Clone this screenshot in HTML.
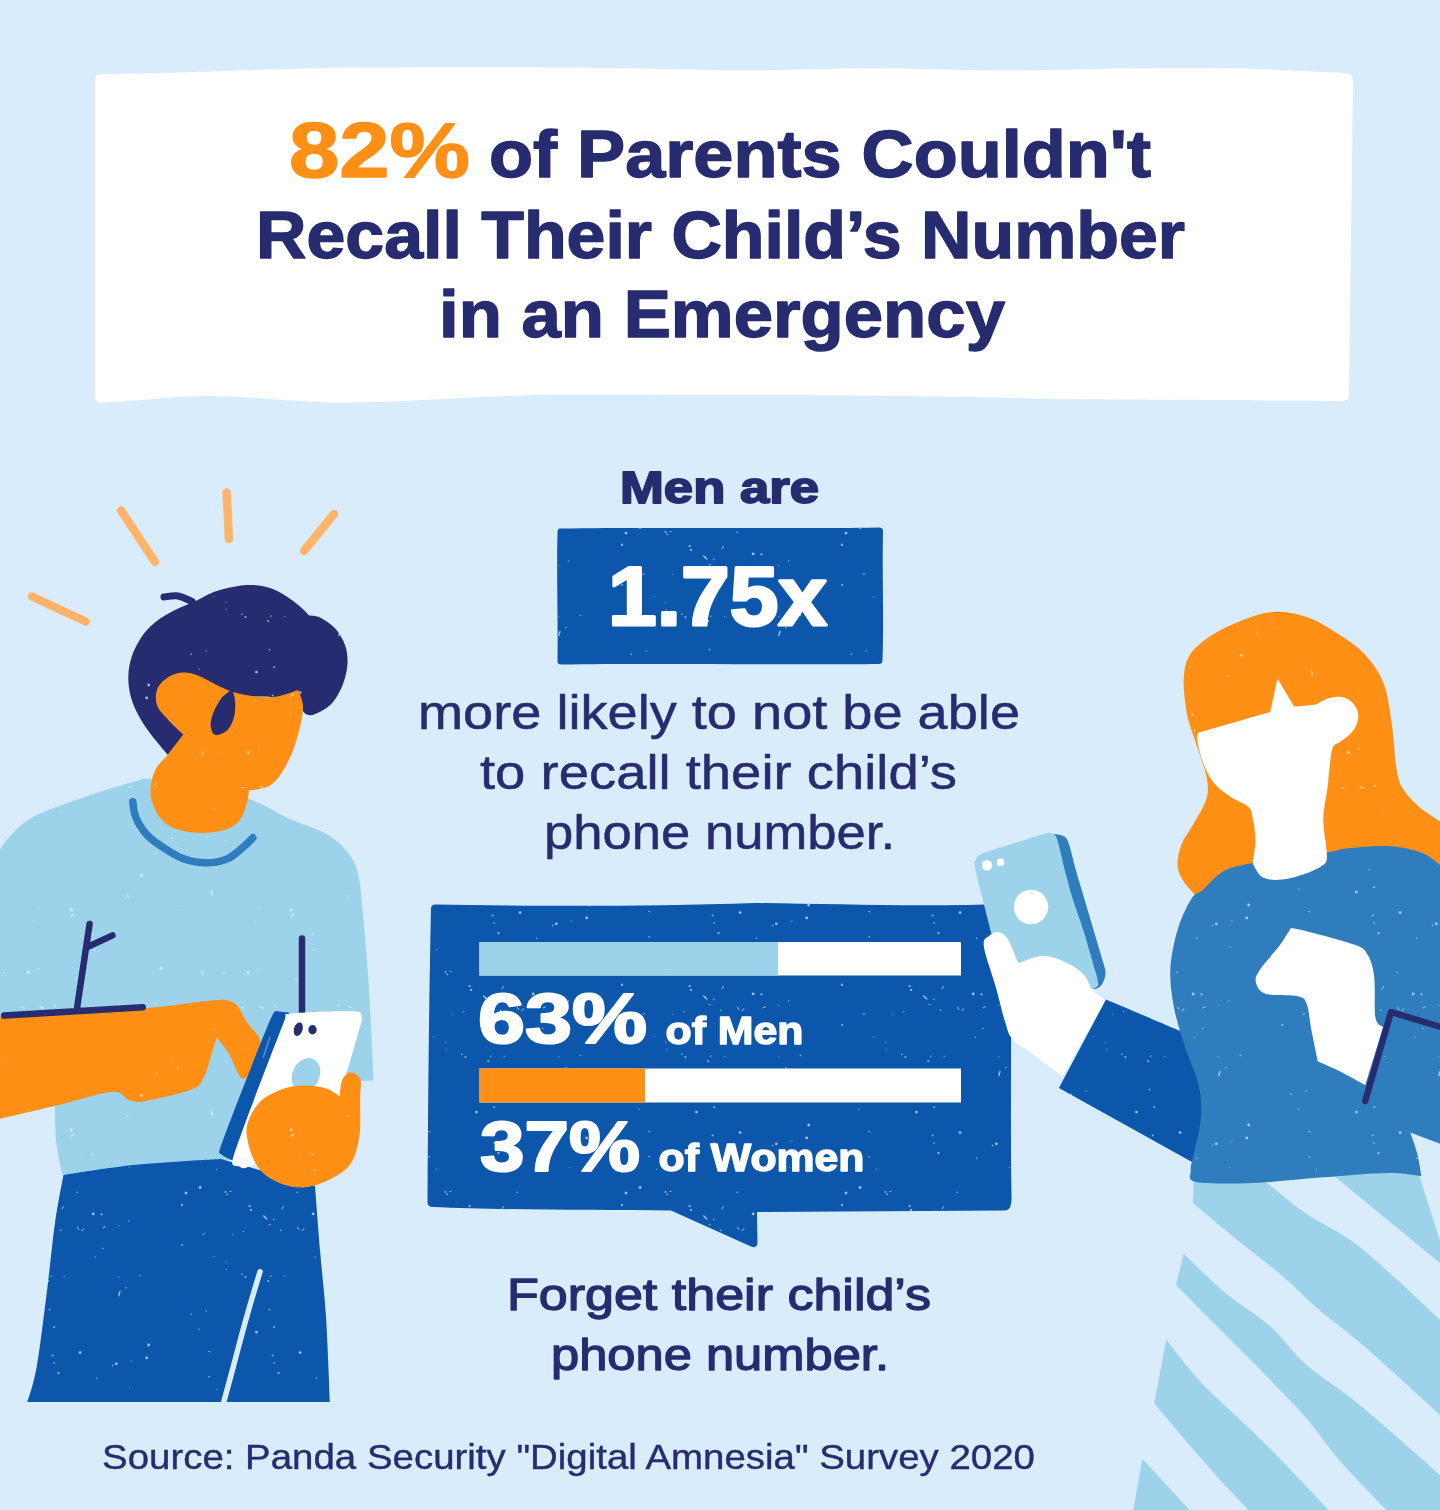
<!DOCTYPE html>
<html lang="en">
<head>
<meta charset="utf-8">
<title>82% of Parents Couldn't Recall Their Child's Number in an Emergency</title>
<style>
html,body{margin:0;padding:0;background:#d9ecfb;}
body{width:1440px;height:1510px;overflow:hidden;position:relative;font-family:"Liberation Sans",sans-serif;}
svg{position:absolute;left:0;top:0;display:block;}
text{font-family:"Liberation Sans",sans-serif;}
.b{font-weight:700;}
.navy{fill:#262c6f;}
.wht{fill:#ffffff;}
.org{fill:#ff9015;}
</style>
</head>
<body>
<svg width="1440" height="1510" viewBox="0 0 1440 1510">
<defs><pattern id="sd" width="220" height="220" patternUnits="userSpaceOnUse"><circle cx="53.9" cy="119.5" r="0.7" fill="#cfe6fa" fill-opacity="0.75"/><ellipse cx="104.4" cy="127.3" rx="2.0" ry="0.5" transform="rotate(150 104.4 127.3)" fill="#cfe6fa" fill-opacity="0.75"/><circle cx="58.5" cy="53.1" r="1.1" fill="#cfe6fa" fill-opacity="0.75"/><circle cx="182.0" cy="104.9" r="1.1" fill="#cfe6fa" fill-opacity="0.75"/><circle cx="52.6" cy="35.4" r="0.9" fill="#cfe6fa" fill-opacity="0.75"/><circle cx="6.2" cy="169.3" r="0.6" fill="#cfe6fa" fill-opacity="0.75"/><circle cx="129.5" cy="67.5" r="0.5" fill="#cfe6fa" fill-opacity="0.75"/><circle cx="60.7" cy="130.3" r="0.8" fill="#cfe6fa" fill-opacity="0.75"/><circle cx="200.1" cy="87.5" r="1.4" fill="#cfe6fa" fill-opacity="0.75"/><ellipse cx="209.3" cy="31.7" rx="1.5" ry="0.4" transform="rotate(24 209.3 31.7)" fill="#cfe6fa" fill-opacity="0.75"/><circle cx="49.4" cy="209.6" r="0.8" fill="#cfe6fa" fill-opacity="0.75"/><circle cx="186.0" cy="93.1" r="1.4" fill="#cfe6fa" fill-opacity="0.75"/><ellipse cx="78.1" cy="128.2" rx="2.0" ry="0.5" transform="rotate(60 78.1 128.2)" fill="#cfe6fa" fill-opacity="0.75"/><circle cx="199.0" cy="9.1" r="0.7" fill="#cfe6fa" fill-opacity="0.75"/><circle cx="146.7" cy="37.9" r="1.4" fill="#cfe6fa" fill-opacity="0.75"/><circle cx="118.9" cy="125.4" r="0.5" fill="#cfe6fa" fill-opacity="0.75"/><circle cx="48.2" cy="181.0" r="0.9" fill="#cfe6fa" fill-opacity="0.75"/><circle cx="29.6" cy="106.1" r="1.1" fill="#cfe6fa" fill-opacity="0.75"/><circle cx="21.9" cy="174.3" r="0.8" fill="#cfe6fa" fill-opacity="0.75"/><circle cx="7.3" cy="94.4" r="0.8" fill="#cfe6fa" fill-opacity="0.75"/><circle cx="12.5" cy="134.5" r="0.5" fill="#cfe6fa" fill-opacity="0.75"/><circle cx="128.5" cy="120.9" r="0.7" fill="#cfe6fa" fill-opacity="0.75"/><ellipse cx="216.7" cy="69.3" rx="1.1" ry="0.3" transform="rotate(96 216.7 69.3)" fill="#cfe6fa" fill-opacity="0.75"/><circle cx="206.1" cy="210.9" r="0.7" fill="#cfe6fa" fill-opacity="0.75"/><circle cx="36.4" cy="12.1" r="1.4" fill="#cfe6fa" fill-opacity="0.75"/><circle cx="80.1" cy="32.6" r="1.4" fill="#cfe6fa" fill-opacity="0.75"/><circle cx="101.5" cy="114.3" r="1.1" fill="#cfe6fa" fill-opacity="0.75"/><circle cx="148.7" cy="25.0" r="1.4" fill="#cfe6fa" fill-opacity="0.75"/><circle cx="95.3" cy="157.1" r="0.6" fill="#cfe6fa" fill-opacity="0.75"/><circle cx="96.6" cy="58.3" r="0.7" fill="#cfe6fa" fill-opacity="0.75"/><circle cx="5.5" cy="91.9" r="0.9" fill="#cfe6fa" fill-opacity="0.75"/><ellipse cx="83.6" cy="129.1" rx="1.3" ry="0.4" transform="rotate(112 83.6 129.1)" fill="#cfe6fa" fill-opacity="0.75"/><circle cx="102.8" cy="148.4" r="0.7" fill="#cfe6fa" fill-opacity="0.75"/><ellipse cx="62.7" cy="107.8" rx="2.0" ry="0.5" transform="rotate(121 62.7 107.8)" fill="#cfe6fa" fill-opacity="0.75"/><circle cx="209.1" cy="56.7" r="0.8" fill="#cfe6fa" fill-opacity="0.75"/><circle cx="131.7" cy="41.0" r="0.6" fill="#cfe6fa" fill-opacity="0.75"/><circle cx="82.0" cy="130.5" r="0.7" fill="#cfe6fa" fill-opacity="0.75"/><circle cx="25.4" cy="177.0" r="0.9" fill="#cfe6fa" fill-opacity="0.75"/><circle cx="31.1" cy="110.0" r="1.1" fill="#cfe6fa" fill-opacity="0.75"/><circle cx="54.1" cy="43.1" r="0.8" fill="#cfe6fa" fill-opacity="0.75"/><circle cx="23.8" cy="131.6" r="0.7" fill="#cfe6fa" fill-opacity="0.75"/><ellipse cx="51.0" cy="176.3" rx="1.3" ry="0.4" transform="rotate(133 51.0 176.3)" fill="#cfe6fa" fill-opacity="0.75"/><ellipse cx="49.7" cy="124.6" rx="1.5" ry="0.4" transform="rotate(21 49.7 124.6)" fill="#cfe6fa" fill-opacity="0.75"/><circle cx="116.3" cy="43.8" r="1.4" fill="#cfe6fa" fill-opacity="0.75"/><circle cx="126.0" cy="187.8" r="0.7" fill="#cfe6fa" fill-opacity="0.75"/><circle cx="140.4" cy="175.5" r="0.7" fill="#cfe6fa" fill-opacity="0.75"/><circle cx="93.2" cy="113.9" r="1.4" fill="#cfe6fa" fill-opacity="0.75"/><circle cx="77.1" cy="92.2" r="0.8" fill="#cfe6fa" fill-opacity="0.75"/><ellipse cx="10.6" cy="91.4" rx="1.3" ry="0.4" transform="rotate(169 10.6 91.4)" fill="#cfe6fa" fill-opacity="0.75"/><circle cx="191.3" cy="214.2" r="0.8" fill="#cfe6fa" fill-opacity="0.75"/><circle cx="214.0" cy="156.5" r="0.5" fill="#cfe6fa" fill-opacity="0.75"/><circle cx="182.1" cy="144.9" r="0.9" fill="#cfe6fa" fill-opacity="0.75"/><ellipse cx="119.4" cy="193.4" rx="3.1" ry="0.8" transform="rotate(105 119.4 193.4)" fill="#cfe6fa" fill-opacity="0.75"/><ellipse cx="64.4" cy="176.4" rx="1.1" ry="0.3" transform="rotate(144 64.4 176.4)" fill="#cfe6fa" fill-opacity="0.75"/><circle cx="112.6" cy="45.5" r="0.8" fill="#cfe6fa" fill-opacity="0.75"/><circle cx="5.8" cy="162.5" r="0.6" fill="#cfe6fa" fill-opacity="0.75"/><circle cx="54.2" cy="7.2" r="0.9" fill="#cfe6fa" fill-opacity="0.75"/><ellipse cx="204.0" cy="134.0" rx="1.5" ry="0.4" transform="rotate(174 204.0 134.0)" fill="#cfe6fa" fill-opacity="0.75"/><circle cx="118.8" cy="176.7" r="0.5" fill="#cfe6fa" fill-opacity="0.75"/><ellipse cx="45.2" cy="117.4" rx="3.1" ry="0.8" transform="rotate(43 45.2 117.4)" fill="#cfe6fa" fill-opacity="0.75"/></pattern><pattern id="sl" width="220" height="220" patternUnits="userSpaceOnUse"><ellipse cx="72.3" cy="35.3" rx="2.4" ry="0.7" transform="rotate(147 72.3 35.3)" fill="#ffffff" fill-opacity="0.60"/><ellipse cx="23.1" cy="127.7" rx="2.0" ry="0.5" transform="rotate(15 23.1 127.7)" fill="#ffffff" fill-opacity="0.60"/><circle cx="92.5" cy="54.5" r="0.9" fill="#ffffff" fill-opacity="0.60"/><circle cx="179.9" cy="29.5" r="0.6" fill="#ffffff" fill-opacity="0.60"/><circle cx="127.8" cy="16.2" r="0.9" fill="#ffffff" fill-opacity="0.60"/><ellipse cx="211.9" cy="13.0" rx="3.1" ry="0.8" transform="rotate(75 211.9 13.0)" fill="#ffffff" fill-opacity="0.60"/><circle cx="118.7" cy="125.2" r="0.9" fill="#ffffff" fill-opacity="0.60"/><ellipse cx="41.7" cy="127.5" rx="2.4" ry="0.7" transform="rotate(17 41.7 127.5)" fill="#ffffff" fill-opacity="0.60"/><ellipse cx="155.4" cy="123.8" rx="2.0" ry="0.5" transform="rotate(122 155.4 123.8)" fill="#ffffff" fill-opacity="0.60"/><circle cx="94.5" cy="70.2" r="0.9" fill="#ffffff" fill-opacity="0.60"/><circle cx="80.4" cy="56.2" r="0.6" fill="#ffffff" fill-opacity="0.60"/><circle cx="55.2" cy="125.9" r="0.9" fill="#ffffff" fill-opacity="0.60"/><circle cx="76.5" cy="99.1" r="0.9" fill="#ffffff" fill-opacity="0.60"/><circle cx="28.3" cy="92.5" r="1.4" fill="#ffffff" fill-opacity="0.60"/><ellipse cx="202.7" cy="93.2" rx="2.4" ry="0.7" transform="rotate(100 202.7 93.2)" fill="#ffffff" fill-opacity="0.60"/><circle cx="171.9" cy="178.1" r="0.7" fill="#ffffff" fill-opacity="0.60"/><ellipse cx="130.2" cy="127.1" rx="1.8" ry="0.5" transform="rotate(16 130.2 127.1)" fill="#ffffff" fill-opacity="0.60"/><ellipse cx="60.8" cy="152.2" rx="1.1" ry="0.3" transform="rotate(126 60.8 152.2)" fill="#ffffff" fill-opacity="0.60"/><circle cx="141.5" cy="215.5" r="1.4" fill="#ffffff" fill-opacity="0.60"/><ellipse cx="156.4" cy="192.8" rx="1.5" ry="0.4" transform="rotate(83 156.4 192.8)" fill="#ffffff" fill-opacity="0.60"/><ellipse cx="39.0" cy="28.1" rx="1.1" ry="0.3" transform="rotate(51 39.0 28.1)" fill="#ffffff" fill-opacity="0.60"/><circle cx="161.0" cy="88.2" r="1.4" fill="#ffffff" fill-opacity="0.60"/><circle cx="38.6" cy="89.0" r="0.7" fill="#ffffff" fill-opacity="0.60"/><circle cx="178.3" cy="187.9" r="0.7" fill="#ffffff" fill-opacity="0.60"/><circle cx="214.1" cy="149.1" r="0.8" fill="#ffffff" fill-opacity="0.60"/><circle cx="35.3" cy="40.7" r="0.6" fill="#ffffff" fill-opacity="0.60"/><circle cx="5.6" cy="180.9" r="0.6" fill="#ffffff" fill-opacity="0.60"/><circle cx="3.9" cy="92.7" r="0.7" fill="#ffffff" fill-opacity="0.60"/><circle cx="71.2" cy="29.9" r="1.4" fill="#ffffff" fill-opacity="0.60"/><circle cx="135.2" cy="147.7" r="0.5" fill="#ffffff" fill-opacity="0.60"/></pattern></defs>
<rect width="1440" height="1510" fill="#d9ecfb"/>
<g id="titlebox">
<path d="M95 80Q95 74 101 74C200 73 280 68 360 67.5C450 67 550 67 610 68C680 69 720 71 780 70C820 69 850 67.5 900 68.5C950 70 1000 71 1050 70C1120 68 1200 67 1260 69L1345 73Q1353 73.5 1353 80L1349 395Q1349 401 1342 401C1250 400 1100 400 1050 399C950 396 800 395 700 395C640 395 580 394 535 395C460 397 400 403 335 402.5C290 402 250 396 210 396C170 396 130 402 101 402.5Q95 402.5 95 396Z" fill="#ffffff"/>
</g>
<g id="man">
<line x1="32" y1="596.5" x2="85.5" y2="621.5" stroke="#ffb469" stroke-width="8.5" stroke-linecap="round"/>
<line x1="121" y1="510.5" x2="155" y2="562" stroke="#ffb469" stroke-width="8.5" stroke-linecap="round"/>
<line x1="226.6" y1="492.5" x2="229" y2="539" stroke="#ffb469" stroke-width="8.5" stroke-linecap="round"/>
<line x1="334" y1="514" x2="304" y2="551" stroke="#ffb469" stroke-width="8.5" stroke-linecap="round"/>
<path d="M-10 866C-10 866 -4 854.7 0 849C4 843.3 8 837.6 14 832C20 826.4 24.5 821.2 36 815.5C47.5 809.8 66.8 803.1 83 797.5C99.2 791.9 121.6 785.1 133 782C144.4 778.9 140.3 777.7 151.5 779C162.7 780.3 183.8 786.7 200 790C216.2 793.3 234.4 794.3 249 799C263.6 803.7 274 811.8 287.5 818C301 824.2 318.8 828.5 330 836C341.2 843.5 349.2 852.7 354.5 863C359.8 873.3 361.5 898 361.5 898C361.5 898 366.5 949.6 368.5 980C370.5 1010.4 373.5 1080.5 373.5 1080.5L330 1082L230 1160C230 1160 160.9 1162.5 133 1165C105.1 1167.5 62.5 1175 62.5 1175C62.5 1175 57.2 1152.5 56 1140C54.8 1127.5 55 1100 55 1100L-10 1100L-10 866Z" fill="#9dd2eb"/><path d="M-10 866C-10 866 -4 854.7 0 849C4 843.3 8 837.6 14 832C20 826.4 24.5 821.2 36 815.5C47.5 809.8 66.8 803.1 83 797.5C99.2 791.9 121.6 785.1 133 782C144.4 778.9 140.3 777.7 151.5 779C162.7 780.3 183.8 786.7 200 790C216.2 793.3 234.4 794.3 249 799C263.6 803.7 274 811.8 287.5 818C301 824.2 318.8 828.5 330 836C341.2 843.5 349.2 852.7 354.5 863C359.8 873.3 361.5 898 361.5 898C361.5 898 366.5 949.6 368.5 980C370.5 1010.4 373.5 1080.5 373.5 1080.5L330 1082L230 1160C230 1160 160.9 1162.5 133 1165C105.1 1167.5 62.5 1175 62.5 1175C62.5 1175 57.2 1152.5 56 1140C54.8 1127.5 55 1100 55 1100L-10 1100L-10 866Z" fill="url(#sl)"/>
<path d="M132.8 801.7C133.1 803.6 133.5 809.3 134.5 813C135.5 816.7 136.7 820.1 138.9 823.9C141.2 827.7 144.3 832.3 148 836C151.7 839.7 155.2 842.2 161 846C166.8 849.8 175.6 855.8 183 858.6C190.4 861.4 198 862.8 205.5 862.8C213 862.8 221.3 861.4 227.8 858.6C234.3 855.8 240.2 849.5 244.4 846C248.6 842.5 251.4 839.2 252.8 837.8" fill="none" stroke="#2f7dbd" stroke-width="7.5" stroke-linecap="round" stroke-linejoin="round"/>
<path d="M196.7 600.5C203.6 597.3 208.4 593.6 216.7 591C225 588.4 237.8 585.5 246.7 585C255.6 584.5 263.3 586.1 270 588C276.7 589.9 281.4 593.2 286.7 596.5C292 599.8 298 604.8 301.7 608C305.4 611.2 309 615.5 309 615.5C309 615.5 315.7 615.4 320 617.5C324.3 619.6 330.8 623.7 335 628.3C339.2 632.9 342.9 639.2 345 645C347.1 650.8 347.8 656.9 347.5 663.3C347.2 669.7 345.7 676.9 343.3 683.3C340.9 689.7 337.2 697 333.3 701.7C329.4 706.4 324.4 709.6 320 711.7C315.6 713.8 311.7 716.5 306.7 714.5C301.7 712.5 301.1 702.4 290 700C278.9 697.6 255 693.3 240 700C225 706.7 212.1 730.9 200 740C187.9 749.1 167.5 754.5 167.5 754.5C167.5 754.5 154.9 739.9 150 733.3C145.1 726.7 141.5 721.1 138.3 715C135.1 708.9 132.5 703.1 130.8 696.7C129.1 690.3 128.2 683.4 128.3 676.7C128.5 670 129.5 663.4 131.7 656.7C133.9 650 137.7 642.5 141.7 636.7C145.7 630.9 150.2 626.2 155.8 621.7C161.4 617.2 168.2 613.5 175 610C181.8 606.5 189.8 603.7 196.7 600.5Z" fill="#262c6f"/><path d="M196.7 600.5C203.6 597.3 208.4 593.6 216.7 591C225 588.4 237.8 585.5 246.7 585C255.6 584.5 263.3 586.1 270 588C276.7 589.9 281.4 593.2 286.7 596.5C292 599.8 298 604.8 301.7 608C305.4 611.2 309 615.5 309 615.5C309 615.5 315.7 615.4 320 617.5C324.3 619.6 330.8 623.7 335 628.3C339.2 632.9 342.9 639.2 345 645C347.1 650.8 347.8 656.9 347.5 663.3C347.2 669.7 345.7 676.9 343.3 683.3C340.9 689.7 337.2 697 333.3 701.7C329.4 706.4 324.4 709.6 320 711.7C315.6 713.8 311.7 716.5 306.7 714.5C301.7 712.5 301.1 702.4 290 700C278.9 697.6 255 693.3 240 700C225 706.7 212.1 730.9 200 740C187.9 749.1 167.5 754.5 167.5 754.5C167.5 754.5 154.9 739.9 150 733.3C145.1 726.7 141.5 721.1 138.3 715C135.1 708.9 132.5 703.1 130.8 696.7C129.1 690.3 128.2 683.4 128.3 676.7C128.5 670 129.5 663.4 131.7 656.7C133.9 650 137.7 642.5 141.7 636.7C145.7 630.9 150.2 626.2 155.8 621.7C161.4 617.2 168.2 613.5 175 610C181.8 606.5 189.8 603.7 196.7 600.5Z" fill="url(#sd)"/>
<path d="M164 597C166.3 596.8 173.3 595.2 178 596C182.7 596.8 189.7 600.6 192 601.5" fill="none" stroke="#262c6f" stroke-width="7" stroke-linecap="round" stroke-linejoin="round"/>
<path d="M183.3 672.5C178.4 672.7 173.1 674 168.8 676.7C164.4 679.5 159.2 684.1 157.3 689C155.4 693.9 155.4 700.6 157.3 705.8C159.2 711 164.4 715.6 168.8 720.4C173.1 725.2 183.3 734.5 183.3 734.5C183.3 734.5 172.2 749.2 167.7 754.8C163.2 760.4 159 763.3 156.2 768.3C153.5 773.3 151.7 779.4 151 785C150.3 790.6 150.4 796.2 152 801.7C153.6 807.2 156.6 813.8 160.4 818.3C164.2 822.8 168.4 826.3 175 828.8C181.6 831.2 191.7 832.8 200 833C208.3 833.2 218.4 831.9 225 829.8C231.6 827.7 235.9 824.7 239.6 820.4C243.2 816.1 245.3 808.7 246.9 803.8C248.5 798.8 249 790.5 249 790.5C249 790.5 261.7 789.3 266.7 787C271.7 784.7 274.8 782.2 279 776.7C283.2 771.2 288.2 762.1 291.7 753.8C295.2 745.4 298.1 734.7 300 726.7C301.9 718.7 303.3 711.9 303 705.8C302.7 699.7 298 690 298 690C298 690 284 695.4 277 696.5C270 697.6 263.3 697.2 256 696.5C248.7 695.8 239.9 693.9 233.3 692C226.8 690.1 222.6 687.7 216.7 685C210.8 682.3 203.6 677.7 198 675.6C192.4 673.5 188.2 672.3 183.3 672.5Z" fill="#ff9015"/><path d="M183.3 672.5C178.4 672.7 173.1 674 168.8 676.7C164.4 679.5 159.2 684.1 157.3 689C155.4 693.9 155.4 700.6 157.3 705.8C159.2 711 164.4 715.6 168.8 720.4C173.1 725.2 183.3 734.5 183.3 734.5C183.3 734.5 172.2 749.2 167.7 754.8C163.2 760.4 159 763.3 156.2 768.3C153.5 773.3 151.7 779.4 151 785C150.3 790.6 150.4 796.2 152 801.7C153.6 807.2 156.6 813.8 160.4 818.3C164.2 822.8 168.4 826.3 175 828.8C181.6 831.2 191.7 832.8 200 833C208.3 833.2 218.4 831.9 225 829.8C231.6 827.7 235.9 824.7 239.6 820.4C243.2 816.1 245.3 808.7 246.9 803.8C248.5 798.8 249 790.5 249 790.5C249 790.5 261.7 789.3 266.7 787C271.7 784.7 274.8 782.2 279 776.7C283.2 771.2 288.2 762.1 291.7 753.8C295.2 745.4 298.1 734.7 300 726.7C301.9 718.7 303.3 711.9 303 705.8C302.7 699.7 298 690 298 690C298 690 284 695.4 277 696.5C270 697.6 263.3 697.2 256 696.5C248.7 695.8 239.9 693.9 233.3 692C226.8 690.1 222.6 687.7 216.7 685C210.8 682.3 203.6 677.7 198 675.6C192.4 673.5 188.2 672.3 183.3 672.5Z" fill="url(#sl)"/>
<path d="M221.7 697.5C221.7 697.5 216.3 705.9 214.5 710C212.7 714.1 211.2 718.4 210.8 722C210.4 725.6 211 729.3 212 731.5C213 733.7 214.3 735.3 217 735C219.7 734.7 225.1 732.7 228 729.5C230.9 726.3 233.1 720.9 234.3 716C235.5 711.1 235.4 704.5 235 700C234.6 695.5 232 689 232 689L221.7 697.5Z" fill="#262c6f"/>
<path d="M63.5 1175C63.5 1175 106.8 1167.7 133 1165C159.2 1162.3 221 1159 221 1159L315 1186C315 1186 318.2 1228.2 320 1250C321.8 1271.8 324.3 1291.4 326 1316.7C327.7 1342 330 1402 330 1402L27.3 1402C27.3 1402 33.5 1384.9 36.7 1366.7C39.9 1348.5 43.7 1317 46.7 1293C49.8 1269 52.2 1242.7 55 1223C57.8 1203.3 63.5 1175 63.5 1175Z" fill="#0c56ab"/><path d="M63.5 1175C63.5 1175 106.8 1167.7 133 1165C159.2 1162.3 221 1159 221 1159L315 1186C315 1186 318.2 1228.2 320 1250C321.8 1271.8 324.3 1291.4 326 1316.7C327.7 1342 330 1402 330 1402L27.3 1402C27.3 1402 33.5 1384.9 36.7 1366.7C39.9 1348.5 43.7 1317 46.7 1293C49.8 1269 52.2 1242.7 55 1223C57.8 1203.3 63.5 1175 63.5 1175Z" fill="url(#sd)"/>
<path d="M260 1271.7C257.8 1279.2 251.1 1300.9 246.7 1316.7C242.2 1332.5 237.2 1352.3 233.3 1366.7C229.4 1381.1 225.1 1397 223.5 1403" fill="none" stroke="#d9ecfb" stroke-width="5.5" stroke-linecap="round" stroke-linejoin="round"/>
<path d="M0 1016.7C0 1016.7 110.8 1010.8 143.8 1008.3C176.8 1005.8 184.5 1003.4 198 1002C211.5 1000.6 218.4 999.3 225 1000C231.6 1000.7 234 1002.5 237.5 1006C241 1009.5 242 1014.8 245.8 1020.8C249.6 1026.8 259.4 1034.4 260.4 1041.7C261.4 1049 254.2 1058.7 252 1064.6C249.8 1070.5 249 1075.1 246.9 1077C244.8 1078.9 242.6 1079.8 239.6 1076C236.6 1072.2 232.8 1060.4 229 1054C225.2 1047.6 216.7 1037.5 216.7 1037.5C216.7 1037.5 212.5 1051.7 210.4 1058.3C208.3 1064.9 207.1 1071.8 204 1077C200.9 1082.2 201.4 1085.6 191.7 1089.6C182 1093.6 156.2 1099.3 145.8 1101C135.4 1102.7 134.6 1101.5 129 1100C123.5 1098.5 123.6 1091 112.5 1091.7C101.4 1092.4 81.2 1099.5 62.5 1104C43.8 1108.5 0 1118.8 0 1118.8L0 1016.7Z" fill="#ff9015"/><path d="M0 1016.7C0 1016.7 110.8 1010.8 143.8 1008.3C176.8 1005.8 184.5 1003.4 198 1002C211.5 1000.6 218.4 999.3 225 1000C231.6 1000.7 234 1002.5 237.5 1006C241 1009.5 242 1014.8 245.8 1020.8C249.6 1026.8 259.4 1034.4 260.4 1041.7C261.4 1049 254.2 1058.7 252 1064.6C249.8 1070.5 249 1075.1 246.9 1077C244.8 1078.9 242.6 1079.8 239.6 1076C236.6 1072.2 232.8 1060.4 229 1054C225.2 1047.6 216.7 1037.5 216.7 1037.5C216.7 1037.5 212.5 1051.7 210.4 1058.3C208.3 1064.9 207.1 1071.8 204 1077C200.9 1082.2 201.4 1085.6 191.7 1089.6C182 1093.6 156.2 1099.3 145.8 1101C135.4 1102.7 134.6 1101.5 129 1100C123.5 1098.5 123.6 1091 112.5 1091.7C101.4 1092.4 81.2 1099.5 62.5 1104C43.8 1108.5 0 1118.8 0 1118.8L0 1016.7Z" fill="url(#sl)"/>
<path d="M4.2 1015.6L142.7 1007.3M89.6 924L77 1008.3M89.6 946L112.5 935.4M302 938.5L302 1012" fill="none" stroke="#262c6f" stroke-width="6.5" stroke-linecap="round"/>
<path d="M272.8 1014.2C275 1009.4 277.2 1011.3 277.2 1011.3L290 1012.8C290 1012.8 287.5 1011.7 281.6 1028C272.6 1052.9 236 1162 236 1162C236 1162 224.4 1157.2 221.8 1154.8C219.2 1152.4 218 1154.5 220.4 1147.5C225.3 1132.9 242.3 1089.6 251 1067.4C259.7 1045.2 268.4 1023.6 272.8 1014.2Z" fill="#0c56ab"/>
<path d="M284 1022C288.4 1011.2 280.5 1015.3 292 1013.5C303.7 1011.7 342.4 1010.7 354 1011.3C363.6 1011.8 360.7 1014.4 361.7 1017C362.7 1019.6 362.7 1017.2 360 1027C356.4 1040.2 339.8 1096.5 339.8 1096.5L300 1140C300 1140 261.1 1161.3 251 1165.7C240.9 1170.1 242.3 1167.8 239.3 1166.5C236.3 1165.2 229.9 1168.1 233 1158C240.4 1133.9 274.2 1046.1 284 1022Z" fill="#ffffff"/>
<line x1="269.9" y1="1037" x2="263.4" y2="1057" stroke="#5b9bd5" stroke-width="1.3" stroke-linecap="round"/>
<ellipse cx="298.3" cy="1029.2" rx="4.3" ry="7" transform="rotate(18 298.3 1029.2)" fill="#262c6f"/>
<ellipse cx="312.5" cy="1029.8" rx="4.2" ry="4.7" fill="#262c6f"/>
<ellipse cx="306" cy="1075" rx="13.5" ry="17.5" transform="rotate(25 306 1075)" fill="#9dd2eb"/>
<path d="M246.6 1133C245.9 1121.7 252.4 1111.2 258 1104C263.6 1096.8 272.7 1093.1 280 1090C287.3 1086.9 294.5 1085.9 302 1085.6C309.5 1085.3 318.7 1086.2 325 1088C331.3 1089.8 339.8 1096.5 339.8 1096.5C339.8 1096.5 340.3 1084.5 342 1080.5C343.7 1076.5 347 1072.8 350 1072.5C353 1072.2 358.5 1074.4 360.2 1079C361.9 1083.6 360.2 1089.8 360 1100C359.8 1110.2 361.3 1128.3 358.8 1140C356.3 1151.7 354.5 1162.1 345 1170C335.5 1177.9 315.8 1187.3 302 1187.6C288.2 1187.9 271.2 1181.1 262 1172C252.8 1162.9 247.3 1144.3 246.6 1133Z" fill="#ff9015"/><path d="M246.6 1133C245.9 1121.7 252.4 1111.2 258 1104C263.6 1096.8 272.7 1093.1 280 1090C287.3 1086.9 294.5 1085.9 302 1085.6C309.5 1085.3 318.7 1086.2 325 1088C331.3 1089.8 339.8 1096.5 339.8 1096.5C339.8 1096.5 340.3 1084.5 342 1080.5C343.7 1076.5 347 1072.8 350 1072.5C353 1072.2 358.5 1074.4 360.2 1079C361.9 1083.6 360.2 1089.8 360 1100C359.8 1110.2 361.3 1128.3 358.8 1140C356.3 1151.7 354.5 1162.1 345 1170C335.5 1177.9 315.8 1187.3 302 1187.6C288.2 1187.9 271.2 1181.1 262 1172C252.8 1162.9 247.3 1144.3 246.6 1133Z" fill="url(#sl)"/>
</g>
<g id="center">
<path d="M560 528.5C650 527 800 529 879 527.5Q883 527.5 883 531C882 570 884 620 882.5 660Q882.5 664 879 664C800 665 650 663 561 664.5Q557.5 664.5 557.5 661C558 620 556.500 570 557.5 532Q557.5 528.500 560 528.5Z" fill="#0c56ab"/><path d="M560 528.5C650 527 800 529 879 527.5Q883 527.5 883 531C882 570 884 620 882.5 660Q882.5 664 879 664C800 665 650 663 561 664.5Q557.5 664.5 557.5 661C558 620 556.500 570 557.5 532Q557.5 528.500 560 528.5Z" fill="url(#sd)"/>
<path d="M435 904.5C520 906 640 907 755 903C830 904 920 907 1007 904Q1011 904 1011 908C1012 1000 1010 1100 1011.5 1200Q1011.500 1210 1005 1210.5L757 1212L757.500 1242Q757.500 1249 751 1246.5L671 1210.500C600 1210 500 1210 433 1207Q427.500 1207 427.5 1202C428 1100 429 1000 431 909Q431 904.500 435 904.5Z" fill="#0c56ab"/><path d="M435 904.5C520 906 640 907 755 903C830 904 920 907 1007 904Q1011 904 1011 908C1012 1000 1010 1100 1011.5 1200Q1011.500 1210 1005 1210.5L757 1212L757.500 1242Q757.500 1249 751 1246.5L671 1210.500C600 1210 500 1210 433 1207Q427.500 1207 427.5 1202C428 1100 429 1000 431 909Q431 904.500 435 904.5Z" fill="url(#sd)"/>
<rect x="479.5" y="942" width="481.5" height="33.5" fill="#ffffff"/>
<rect x="479.5" y="942" width="298.5" height="33.5" fill="#9dd2eb"/>
<rect x="479.5" y="1068.500" width="481.5" height="34" fill="#ffffff"/>
<rect x="479.5" y="1068.500" width="165.5" height="34" fill="#ff9015"/>
</g>
<g id="woman">
<path d="M1322 1166L1416 1163L1419 1175L1440 1241L1440 1263L1322 1166Z" fill="#9dd2eb"/>
<path d="M1194 1168L1248 1168L1263.7 1180C1263.7 1180 1290.7 1203.1 1305.4 1213.3C1320.1 1223.5 1336.3 1229.8 1351.7 1241C1367.1 1252.2 1383.3 1267.3 1398 1280.5C1412.7 1293.7 1440 1320 1440 1320L1440 1415C1440 1415 1422.4 1398.6 1409.6 1387C1396.8 1375.4 1378.7 1358.6 1363.3 1345.4C1347.9 1332.2 1330.5 1319.6 1317 1308C1303.5 1296.4 1295.7 1287.3 1282.2 1275.8C1268.7 1264.3 1250.7 1250.9 1235.8 1238.8C1220.9 1226.7 1193 1203 1193 1203L1194 1168Z" fill="#9dd2eb"/>
<path d="M1183.7 1253.8C1183.7 1253.8 1209.8 1279.8 1224.3 1292C1238.8 1304.2 1257.1 1314.8 1270.6 1326.8C1284.1 1338.8 1291.9 1352 1305.4 1364C1318.9 1376 1336.3 1386.3 1351.7 1398.6C1367.1 1410.9 1383.3 1425.3 1398 1438C1412.7 1450.7 1440 1475 1440 1475L1440 1510L1386.4 1510C1386.4 1510 1353.5 1476.5 1340 1461C1326.5 1445.5 1318.9 1432.4 1305.4 1417C1291.9 1401.6 1274.5 1384.3 1259 1368.5C1243.5 1352.7 1226.5 1335.9 1212.7 1322C1198.9 1308.1 1176 1285 1176 1285L1183.7 1253.8Z" fill="#9dd2eb"/>
<path d="M1166.3 1339.6C1166.3 1339.6 1187.5 1367.9 1201 1382.4C1214.5 1396.9 1233.9 1413.4 1247.4 1426.5C1260.9 1439.6 1268.7 1447.1 1282.2 1461C1295.7 1474.9 1328.5 1510 1328.5 1510L1248.6 1510C1248.6 1510 1234.1 1495.2 1224.3 1484.4C1214.5 1473.6 1201.2 1458.5 1189.5 1445C1177.8 1431.5 1154.3 1403.3 1154.3 1403.3L1166.3 1339.6Z" fill="#9dd2eb"/>
<path d="M1142.5 1459L1189.5 1510L1133.2 1510L1142.5 1459Z" fill="#9dd2eb"/>
<path d="M1273.3 612C1284.4 611.3 1295.9 613.4 1306.7 617C1317.5 620.6 1328.3 627.5 1338 633.8C1347.7 640 1357.4 646.3 1365 654.6C1372.6 662.9 1379.2 672 1383.8 683.8C1388.2 695.5 1389.9 711.5 1392 725.4C1394.1 739.3 1394.5 756.6 1396.2 767C1398 777.4 1398.7 781.4 1402.5 788C1406.3 794.6 1412.8 801.2 1419 806.7C1425.2 812.2 1440 821.2 1440 821.2L1440 900L1200 900C1200 900 1187.5 887.5 1183.8 881.7C1180 875.9 1177.8 871.3 1177.5 865C1177.2 858.7 1179 851 1181.7 844C1184.5 837 1189.8 830.7 1194 823C1198.2 815.3 1204.6 805.6 1206.7 798C1208.8 790.4 1207.8 784.7 1206.7 777.5C1205.6 770.3 1202.8 763.7 1200 755C1197.2 746.3 1192.4 733.4 1190 725.4C1187.6 717.4 1186.8 714.7 1185.8 706.7C1184.8 698.7 1183 686.2 1183.8 677.5C1184.5 668.8 1185.5 661.6 1190 654.6C1194.5 647.6 1202.5 641.4 1210.8 635.8C1219.1 630.2 1229.6 625.2 1240 621.2C1250.4 617.3 1262.2 612.7 1273.3 612Z" fill="#ff9015"/><path d="M1273.3 612C1284.4 611.3 1295.9 613.4 1306.7 617C1317.5 620.6 1328.3 627.5 1338 633.8C1347.7 640 1357.4 646.3 1365 654.6C1372.6 662.9 1379.2 672 1383.8 683.8C1388.2 695.5 1389.9 711.5 1392 725.4C1394.1 739.3 1394.5 756.6 1396.2 767C1398 777.4 1398.7 781.4 1402.5 788C1406.3 794.6 1412.8 801.2 1419 806.7C1425.2 812.2 1440 821.2 1440 821.2L1440 900L1200 900C1200 900 1187.5 887.5 1183.8 881.7C1180 875.9 1177.8 871.3 1177.5 865C1177.2 858.7 1179 851 1181.7 844C1184.5 837 1189.8 830.7 1194 823C1198.2 815.3 1204.6 805.6 1206.7 798C1208.8 790.4 1207.8 784.7 1206.7 777.5C1205.6 770.3 1202.8 763.7 1200 755C1197.2 746.3 1192.4 733.4 1190 725.4C1187.6 717.4 1186.8 714.7 1185.8 706.7C1184.8 698.7 1183 686.2 1183.8 677.5C1184.5 668.8 1185.5 661.6 1190 654.6C1194.5 647.6 1202.5 641.4 1210.8 635.8C1219.1 630.2 1229.6 625.2 1240 621.2C1250.4 617.3 1262.2 612.7 1273.3 612Z" fill="url(#sl)"/>
<path d="M1198.3 732.7L1270.2 712L1277.5 678.5L1294.2 706.7C1294.2 706.7 1310.4 705.6 1315 704.6C1319.6 703.6 1319.5 702.1 1322 701C1324.5 699.9 1327 698.7 1330 698C1333 697.3 1336.7 696.4 1340 696.8C1343.3 697.2 1347.2 698.5 1350 700.5C1352.8 702.5 1355.1 705.6 1356.5 708.5C1357.9 711.4 1358.5 714.8 1358.2 718C1358 721.2 1356.7 725 1355 728C1353.3 731 1350.5 733.7 1348 736C1345.5 738.3 1342.7 739.7 1340 742C1337.3 744.3 1334.1 742.3 1332 750C1329.9 757.7 1329 776.5 1327.5 788C1326 799.5 1323.5 808.6 1323.3 819C1323.1 829.4 1326.2 843.1 1326.5 850.4C1326.8 857.7 1328.7 859.2 1325.4 863C1322.1 866.8 1314 870.5 1306.7 873.3C1299.4 876.1 1289 878.9 1281.7 879.6C1274.4 880.3 1267.7 879.9 1263 877.5C1258.3 875.1 1254.7 871.2 1253.5 865C1252.3 858.8 1255.8 848 1255.6 840C1255.4 832 1253.7 822.5 1252.5 817C1251.3 811.5 1252.1 810.2 1248.3 806.7C1244.5 803.2 1235.5 800.4 1229.6 796.2C1223.7 792.1 1217.4 787.6 1212.9 781.7C1208.4 775.8 1205.1 767.8 1202.5 760.8C1199.9 753.8 1198 744.7 1197.3 740C1196.6 735.3 1198.3 732.7 1198.3 732.7Z" fill="#ffffff"/>
<path d="M1106 999.5C1106 999.5 1157.2 1021.2 1174.5 1028.6C1191.8 1036 1210 1044 1210 1044L1210 1172L1058.9 1088L1106 999.5Z" fill="#0c56ab"/><path d="M1106 999.5C1106 999.5 1157.2 1021.2 1174.5 1028.6C1191.8 1036 1210 1044 1210 1044L1210 1172L1058.9 1088L1106 999.5Z" fill="url(#sd)"/>
<path d="M1202.5 890C1207.8 885.5 1215 875.8 1223.3 871.2C1231.6 866.8 1241.4 865.2 1252.5 863C1263.6 860.8 1277.5 859.8 1290 858C1302.5 856.2 1317.8 854.1 1327.5 852.5C1337.2 850.9 1337.9 849.3 1348.3 848.3C1358.7 847.3 1377.8 845.5 1390 846.2C1402.2 847 1412.9 849.4 1421.2 852.5C1429.6 855.6 1440 865 1440 865L1440 1143.8L1410.3 1132.5C1410.3 1132.5 1415.1 1145.5 1417 1152.8C1418.9 1160.1 1421.5 1176.4 1421.5 1176.4C1421.5 1176.4 1404.6 1172.8 1387.7 1173C1370.8 1173.2 1342.5 1175.9 1320 1177.6C1297.5 1179.3 1273.2 1182.3 1252.6 1183C1232 1183.7 1206.6 1184 1196.3 1182C1186 1180 1191.1 1175.7 1190.7 1170.8C1190.3 1165.9 1192.3 1161.4 1194 1152.8C1195.7 1144.2 1200 1130.3 1200.8 1119C1201.6 1107.7 1201.2 1097 1198.6 1085C1196 1073 1189.1 1060.1 1185 1047C1180.9 1033.9 1176.2 1019.6 1173.8 1006.4C1171.4 993.2 1169.7 981.1 1170.4 968C1171.2 954.9 1174.7 939.2 1178.3 927.6C1181.9 916 1187.8 904.6 1191.8 898.3C1195.8 892 1197.2 894.5 1202.5 890Z" fill="#2f7dbd"/><path d="M1202.5 890C1207.8 885.5 1215 875.8 1223.3 871.2C1231.6 866.8 1241.4 865.2 1252.5 863C1263.6 860.8 1277.5 859.8 1290 858C1302.5 856.2 1317.8 854.1 1327.5 852.5C1337.2 850.9 1337.9 849.3 1348.3 848.3C1358.7 847.3 1377.8 845.5 1390 846.2C1402.2 847 1412.9 849.4 1421.2 852.5C1429.6 855.6 1440 865 1440 865L1440 1143.8L1410.3 1132.5C1410.3 1132.5 1415.1 1145.5 1417 1152.8C1418.9 1160.1 1421.5 1176.4 1421.5 1176.4C1421.5 1176.4 1404.6 1172.8 1387.7 1173C1370.8 1173.2 1342.5 1175.9 1320 1177.6C1297.5 1179.3 1273.2 1182.3 1252.6 1183C1232 1183.7 1206.6 1184 1196.3 1182C1186 1180 1191.1 1175.7 1190.7 1170.8C1190.3 1165.9 1192.3 1161.4 1194 1152.8C1195.7 1144.2 1200 1130.3 1200.8 1119C1201.6 1107.7 1201.2 1097 1198.6 1085C1196 1073 1189.1 1060.1 1185 1047C1180.9 1033.9 1176.2 1019.6 1173.8 1006.4C1171.4 993.2 1169.7 981.1 1170.4 968C1171.2 954.9 1174.7 939.2 1178.3 927.6C1181.9 916 1187.8 904.6 1191.8 898.3C1195.8 892 1197.2 894.5 1202.5 890Z" fill="url(#sd)"/>
<path d="M1253.5 860C1253.5 860 1251.9 862.1 1253.5 865C1255.1 867.9 1258.3 875.1 1263 877.5C1267.7 879.9 1274.4 880.3 1281.7 879.6C1289 878.9 1299.4 876.1 1306.7 873.3C1314 870.5 1322.2 866.9 1325.4 863C1328.6 859.1 1326 850 1326 850L1253.5 860Z" fill="#ffffff"/>
<path d="M1295.4 928.7C1306.3 930.8 1342 940.2 1354 944.5C1366 948.8 1364.1 949.2 1367.5 954.6C1370.9 960 1372.9 966.5 1374.2 977C1375.5 987.5 1373.9 1009.4 1375.4 1017.7C1376.9 1026 1383.2 1026.7 1383.2 1026.7L1365.2 1085.2C1365.2 1085.2 1346.1 1074.5 1338.2 1070.6C1330.3 1066.7 1317.9 1061.6 1317.9 1061.6C1317.9 1061.6 1313.1 1038.6 1311.2 1029C1309.3 1019.4 1309 1009.5 1306.7 1004C1304.5 998.5 1304.5 998 1297.7 996.3C1290.9 994.6 1273 996.3 1266 994C1259 991.7 1257.1 986.6 1256 982.7C1254.9 978.8 1255.5 976.6 1259.4 970.4C1263.3 964.2 1274.7 952 1279.6 945.6C1284.5 939.2 1286 934.8 1288.6 932C1291.2 929.2 1288 927.3 1295.4 928.7Z" fill="#ffffff"/>
<path d="M1365.2 1101L1391 1012L1440 1026.7" fill="none" stroke="#262c6f" stroke-width="6.3" stroke-linecap="round" stroke-linejoin="round"/>
<path d="M1050 834C1050 834 1057.8 834 1060.8 835.3C1063.8 836.5 1065.5 835.5 1068 841.5C1070.5 847.5 1073.4 861.5 1076.1 871.1C1078.8 880.7 1081.4 888.7 1084.4 898.9C1087.4 909.1 1091.1 921.6 1094.2 932.2C1097.3 942.9 1101.4 955.8 1103.3 962.8C1105.2 969.8 1105.8 970.3 1105.5 974C1105.2 977.7 1103.4 982.5 1101.5 985C1099.6 987.5 1097 988.8 1094.2 989C1091.5 989.2 1085 986 1085 986L1050 834Z" fill="#2f7dbd"/>
<path d="M975.3 869C973.4 859.7 974.7 862.1 976 859.5C977.3 856.9 976.5 856 983 853.2C989.5 850.5 1004.7 846.2 1015 843C1025.3 839.8 1039 835.4 1045 833.8C1050.8 832.2 1049.2 832.8 1051 833.3C1052.8 833.8 1054.6 834 1056 836.5C1057.4 839 1058 842.2 1059.5 848C1061 853.8 1062.8 862.5 1065 871C1067.2 879.5 1069.6 888.7 1072.8 898.9C1076 909.1 1081.3 923.5 1084 932C1086.7 940.5 1087.5 944.2 1089.2 950C1090.9 955.8 1092.6 961.8 1094 967C1095.4 972.2 1097.8 977.4 1097.8 981C1097.8 984.6 1100.3 985.3 1094 988.5C1087.7 991.7 1060 1000 1060 1000L1000 970C1000 970 995.1 948.8 991 932C986.9 915.2 977.8 881.1 975.3 869Z" fill="#9dd2eb"/>
<circle cx="987" cy="865.3" r="5.2" fill="#fff"/><circle cx="1000.5" cy="862.4" r="3.8" fill="#fff"/><circle cx="1031" cy="907" r="17.2" fill="#fff"/>
<path d="M998 932C994.9 931.5 991.4 933.6 989 936C986.6 938.4 982.7 937.8 983.8 946.3C984.9 954.8 992.1 974.1 995.7 986.8C999.3 999.5 1002.5 1013.9 1005.3 1022.6C1008.1 1031.3 1008 1034.1 1012.4 1039.3C1016.8 1044.5 1023.1 1047.3 1031.5 1053.5C1039.8 1059.7 1062.5 1076.5 1062.5 1076.5L1105.4 1000C1105.4 1000 1097.1 995.8 1093.5 991.6C1089.9 987.4 1088.4 979.8 1084 975C1079.6 970.2 1074 966.2 1067.2 963C1060.4 959.8 1051.3 955.8 1043.4 955.8C1035.5 955.8 1019.6 963 1019.6 963C1019.6 963 1018.7 963.6 1017.2 960.6C1015.2 956.6 1010.9 943.8 1007.7 939C1004.5 934.2 1001.1 932.5 998 932Z" fill="#ffffff"/>
</g>
<g id="texts">
<text class="b navy" y="177" font-size="66" stroke="#262c6f" stroke-width="1.4" stroke-linejoin="round"><tspan class="org" stroke="#ff9015" x="289" font-size="77" textLength="181" lengthAdjust="spacingAndGlyphs">82%</tspan><tspan x="489" textLength="662" lengthAdjust="spacingAndGlyphs">of Parents Couldn't</tspan></text>
<text class="b navy" x="256" y="258" font-size="66" textLength="929" lengthAdjust="spacingAndGlyphs" stroke="#262c6f" stroke-width="1.4" stroke-linejoin="round">Recall Their Child’s Number</text>
<text class="b navy" x="439" y="337" font-size="66" textLength="566" lengthAdjust="spacingAndGlyphs" stroke="#262c6f" stroke-width="1.4" stroke-linejoin="round">in an Emergency</text>
<text class="b navy" x="620" y="503" font-size="44" textLength="199" lengthAdjust="spacingAndGlyphs" stroke="#262c6f" stroke-width="1.8" stroke-linejoin="round">Men are</text>
<text class="b wht" x="608" y="625" font-size="83.5" textLength="219" lengthAdjust="spacingAndGlyphs" stroke="#ffffff" stroke-width="3" stroke-linejoin="round">1.75x</text>
<text class="navy" x="418" y="729" font-size="48" textLength="602" lengthAdjust="spacingAndGlyphs" stroke="#262c6f" stroke-width="0.5" stroke-linejoin="round">more likely to not be able</text>
<text class="navy" x="480" y="789" font-size="48" textLength="477" lengthAdjust="spacingAndGlyphs" stroke="#262c6f" stroke-width="0.5" stroke-linejoin="round">to recall their child’s</text>
<text class="navy" x="544" y="849" font-size="48" textLength="351" lengthAdjust="spacingAndGlyphs" stroke="#262c6f" stroke-width="0.5" stroke-linejoin="round">phone number.</text>
<text class="b wht" x="478" y="1043.3" font-size="70" textLength="169" lengthAdjust="spacingAndGlyphs" stroke="#ffffff" stroke-width="2.2" stroke-linejoin="round">63%</text>
<text class="b wht" x="665.5" y="1043.6" font-size="38.5" textLength="138" lengthAdjust="spacingAndGlyphs" stroke="#ffffff" stroke-width="1.4" stroke-linejoin="round">of Men</text>
<text class="b wht" x="480" y="1170.8" font-size="70" textLength="160" lengthAdjust="spacingAndGlyphs" stroke="#ffffff" stroke-width="2.2" stroke-linejoin="round">37%</text>
<text class="b wht" x="658.5" y="1171.1" font-size="38.5" textLength="206" lengthAdjust="spacingAndGlyphs" stroke="#ffffff" stroke-width="1.4" stroke-linejoin="round">of Women</text>
<text class="navy" x="507" y="1310" font-size="44.5" textLength="424" lengthAdjust="spacingAndGlyphs" stroke="#262c6f" stroke-width="1.3" stroke-linejoin="round">Forget their child’s</text>
<text class="navy" x="551" y="1369.5" font-size="44.5" textLength="338" lengthAdjust="spacingAndGlyphs" stroke="#262c6f" stroke-width="1.3" stroke-linejoin="round">phone number.</text>
<text class="navy" x="102" y="1469" font-size="35" textLength="933" lengthAdjust="spacingAndGlyphs" stroke="#262c6f" stroke-width="0.4" stroke-linejoin="round">Source: Panda Security "Digital Amnesia" Survey 2020</text>
</g>
</svg>
</body>
</html>
